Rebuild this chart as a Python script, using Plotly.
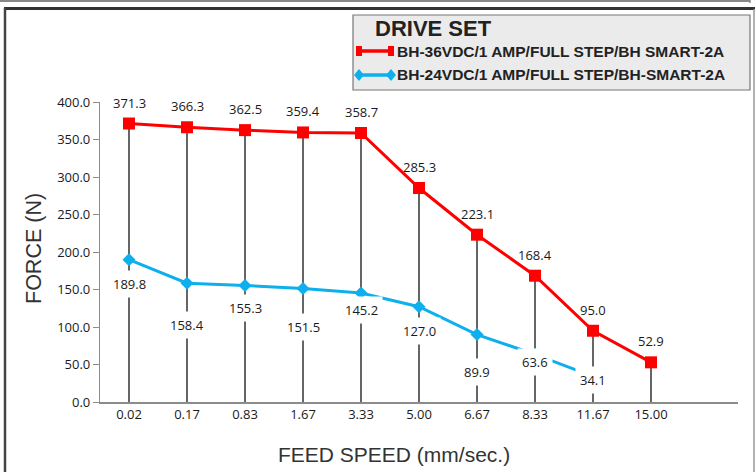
import plotly.graph_objects as go

categories = ["0.02", "0.17", "0.83", "1.67", "3.33", "5.00", "6.67", "8.33", "11.67", "15.00"]
red_name = "BH-36VDC/1 AMP/FULL STEP/BH SMART-2A"
blue_name = "BH-24VDC/1 AMP/FULL STEP/BH-SMART-2A"
red_values = [371.3, 366.3, 362.5, 359.4, 358.7, 285.3, 223.1, 168.4, 95.0, 52.9]
blue_values = [189.8, 158.4, 155.3, 151.5, 145.2, 127.0, 89.9, 63.6, 34.1]
y_ticks = [0, 50, 100, 150, 200, 250, 300, 350, 400]

# label offsets (pixels) - styling only
blue_label_shift = [24, 42, 22, 39, 17, 24, 37, 8, 4]
red_label_shift = 21

W, H = 755, 472
L, R, T, B = 100, 738, 102, 402

def px(x):
    return (x - L) / (R - L)

def py(y):
    return (B - y) / (B - T)

RED = "#ff0000"
BLUE = "#0db0ec"
FONT = "Open Sans"

fig = go.Figure()

# drop lines
dx, dy = [], []
for c, v in zip(categories, red_values):
    dx += [c, c, None]
    dy += [v, 0, None]
fig.add_trace(go.Scatter(x=dx, y=dy, mode="lines", line=dict(color="#333333", width=1.5),
                         hoverinfo="skip", showlegend=False))

fig.add_trace(go.Scatter(x=categories[:len(blue_values)], y=blue_values, mode="lines+markers",
                         name=blue_name, line=dict(color=BLUE, width=3),
                         marker=dict(symbol="diamond", size=10, color=BLUE), showlegend=False))
fig.add_trace(go.Scatter(x=categories, y=red_values, mode="lines+markers",
                         name=red_name, line=dict(color=RED, width=3),
                         marker=dict(symbol="square", size=12, color=RED), showlegend=False))

ann = []
for i, v in enumerate(red_values):
    ann.append(dict(x=i, y=v, text=f"{v:.1f}", showarrow=False, yshift=red_label_shift,
                    font=dict(family=FONT, size=13, color="#1a1a1a")))
for i, (v, s) in enumerate(zip(blue_values, blue_label_shift)):
    ann.append(dict(x=i, y=v, text=f"{v:.1f}", showarrow=False, yshift=-s,
                    font=dict(family=FONT, size=13, color="#1a1a1a"), bgcolor="white", borderpad=4))

# axis titles
ann.append(dict(xref="paper", yref="paper", x=px(394), y=py(454), text="FEED SPEED (mm/sec.)",
                xanchor="center", yanchor="middle",
                showarrow=False, font=dict(family="Liberation Sans", size=21, color="#333333")))
ann.append(dict(xref="paper", yref="paper", x=px(34), y=py(249), text="FORCE (N)", textangle=-90,
                xanchor="center", yanchor="middle",
                showarrow=False, font=dict(family="Liberation Sans", size=21.5, color="#333333")))

# legend texts
ann.append(dict(xref="paper", yref="paper", x=px(373), y=py(28), text="<b>DRIVE SET</b>",
                xanchor="left", yanchor="middle", showarrow=False,
                font=dict(family="Liberation Sans", size=22, color="#222222")))
ann.append(dict(xref="paper", yref="paper", x=px(395), y=py(51), text=f"<b>{red_name}</b>",
                xanchor="left", yanchor="middle", showarrow=False,
                font=dict(family="Liberation Sans", size=15.5, color="#222222")))
ann.append(dict(xref="paper", yref="paper", x=px(395), y=py(75), text=f"<b>{blue_name}</b>",
                xanchor="left", yanchor="middle", showarrow=False,
                font=dict(family="Liberation Sans", size=15.5, color="#222222")))

shapes = []
# frames
shapes.append(dict(type="line", xref="paper", yref="paper", x0=px(0), x1=px(750), y0=py(1), y1=py(1),
                   line=dict(color="#888888", width=2)))
shapes.append(dict(type="line", xref="paper", yref="paper", x0=px(750), x1=px(750), y0=py(0), y1=py(3),
                   line=dict(color="#888888", width=1.5)))
shapes.append(dict(type="line", xref="paper", yref="paper", x0=px(4), x1=px(755), y0=py(8.5), y1=py(8.5),
                   line=dict(color="#333333", width=3)))
shapes.append(dict(type="line", xref="paper", yref="paper", x0=px(5), x1=px(5), y0=py(8), y1=py(472),
                   line=dict(color="#444444", width=2.5)))
shapes.append(dict(type="line", xref="paper", yref="paper", x0=px(754), x1=px(754), y0=py(9), y1=py(472),
                   line=dict(color="#999999", width=1.5)))
# legend box
shapes.append(dict(type="rect", xref="paper", yref="paper", x0=px(353), x1=px(750), y0=py(15), y1=py(90),
                   fillcolor="#ebebeb", line=dict(color="#777777", width=1.2), layer="below"))
# legend glyphs
shapes.append(dict(type="line", xref="paper", yref="paper", x0=px(358), x1=px(392), y0=py(51), y1=py(51),
                   line=dict(color=RED, width=3.5)))
shapes.append(dict(type="rect", xref="paper", yref="paper", x0=px(356), x1=px(362), y0=py(46), y1=py(56),
                   fillcolor=RED, line=dict(width=0)))
shapes.append(dict(type="rect", xref="paper", yref="paper", x0=px(388), x1=px(394), y0=py(46), y1=py(56),
                   fillcolor=RED, line=dict(width=0)))
shapes.append(dict(type="line", xref="paper", yref="paper", x0=px(358), x1=px(392), y0=py(75), y1=py(75),
                   line=dict(color=BLUE, width=3.5)))
for cx in (359, 391):
    shapes.append(dict(type="path", xref="paper", yref="paper",
                       path=f"M {px(cx-5)} {py(75)} L {px(cx)} {py(69)} L {px(cx+5)} {py(75)} L {px(cx)} {py(81)} Z",
                       fillcolor=BLUE, line=dict(width=0)))

fig.update_layout(
    width=W, height=H,
    margin=dict(l=L, r=W - R, t=T, b=H - B),
    paper_bgcolor="white", plot_bgcolor="white",
    showlegend=False,
    xaxis=dict(type="category", categoryorder="array", categoryarray=categories,
               range=[-0.5, len(categories) + 0.5], showgrid=False, zeroline=False,
               showline=True, linecolor="#8c8c8c", linewidth=1.5, ticks="",
               tickfont=dict(family=FONT, size=13, color="#1a1a1a")),
    yaxis=dict(range=[0, 400], tickvals=y_ticks, ticktext=[f"{v:.1f}" for v in y_ticks],
               showgrid=False, zeroline=False, showline=True, linecolor="#8c8c8c", linewidth=1.2,
               ticks="outside", ticklen=6, tickcolor="#8c8c8c",
               tickfont=dict(family=FONT, size=13, color="#1a1a1a")),
    annotations=ann, shapes=shapes,
)

fig.write_html("out.html", config={"displayModeBar": False},
               post_script="document.body.style.margin='0';document.body.style.overflow='hidden';")
